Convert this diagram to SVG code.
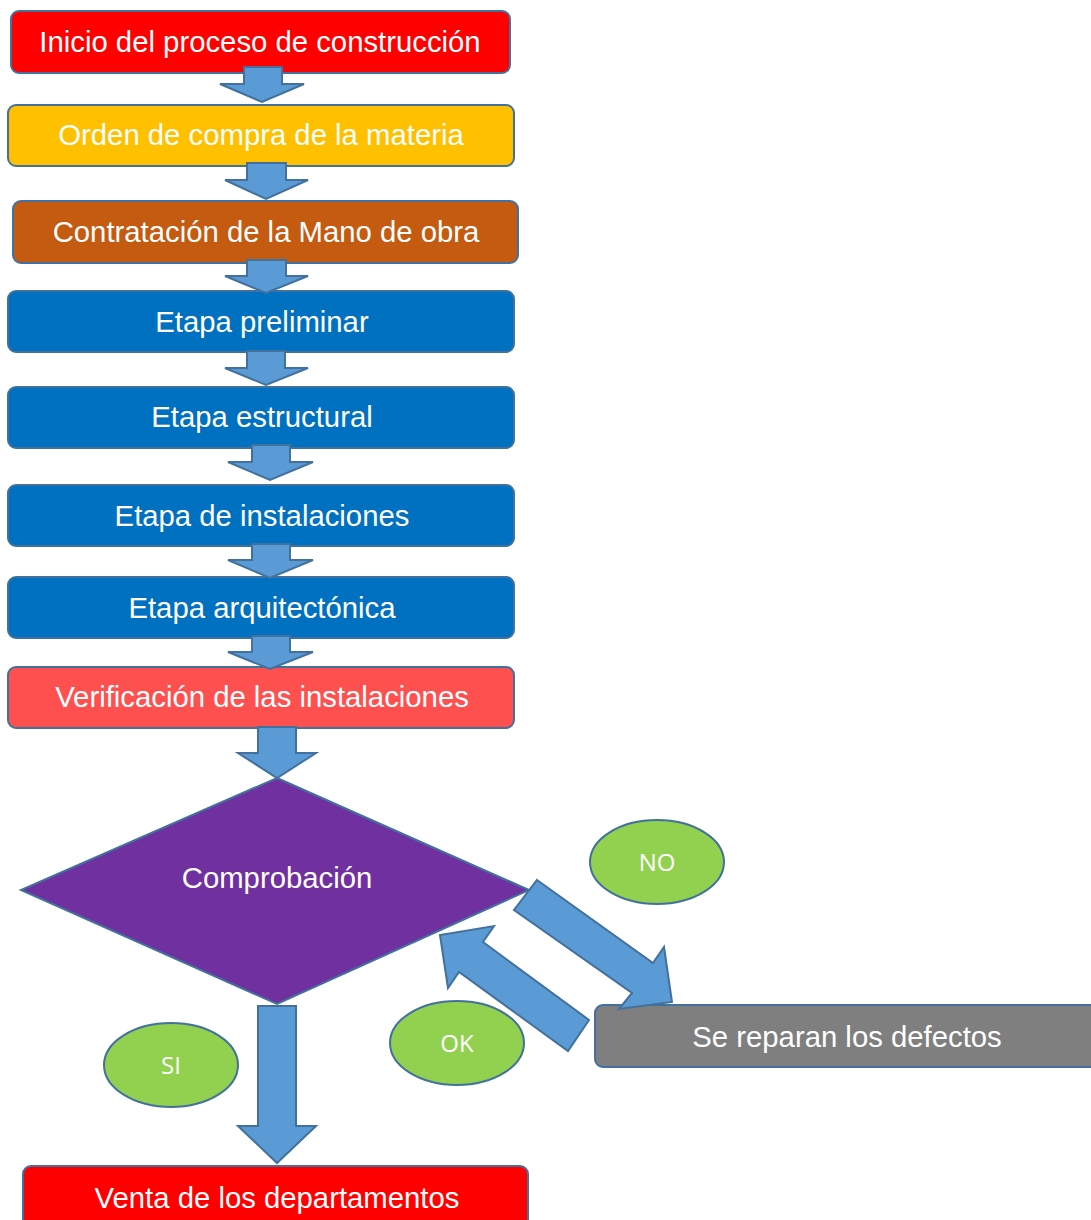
<svg xmlns="http://www.w3.org/2000/svg" width="1091" height="1220" viewBox="0 0 1091 1220">
  <style>
    .box { stroke: #41719C; stroke-width: 2; }
    .lbl { font-family: "Liberation Sans", Arial, sans-serif; font-size: 29.3px; fill: #FFFFFF; text-anchor: middle; }
    .tag { fill: #92D050; stroke: #41719C; stroke-width: 2; }
    .tagtxt { font-family: "Open Sans", "Liberation Sans", sans-serif; font-size: 24px; fill: #FFFFFF; text-anchor: middle; }
    .arrow { fill: #5B9BD5; stroke: #41719C; stroke-width: 2; stroke-linejoin: miter; }
  </style>

  <rect width="1091" height="1220" fill="#FFFFFF"/>

  <g id="n-inicio">
    <rect class="box" x="11" y="11" width="499" height="62" rx="8" fill="#FF0000"/>
    <text class="lbl" x="260" y="52">Inicio del proceso de construcción</text>
  </g>
  <g id="n-orden">
    <rect class="box" x="8" y="105" width="506" height="61" rx="8" fill="#FFC000"/>
    <text class="lbl" x="261" y="145">Orden de compra de la materia</text>
  </g>
  <g id="n-contratacion">
    <rect class="box" x="13" y="201" width="505" height="62" rx="8" fill="#C55A11"/>
    <text class="lbl" x="266" y="242">Contratación de la Mano de obra</text>
  </g>
  <g id="n-preliminar">
    <rect class="box" x="8" y="291" width="506" height="61" rx="8" fill="#0070C0"/>
    <text class="lbl" x="262" y="332">Etapa preliminar</text>
  </g>
  <g id="n-estructural">
    <rect class="box" x="8" y="387" width="506" height="61" rx="8" fill="#0070C0"/>
    <text class="lbl" x="262" y="427">Etapa estructural</text>
  </g>
  <g id="n-instalaciones">
    <rect class="box" x="8" y="485" width="506" height="61" rx="8" fill="#0070C0"/>
    <text class="lbl" x="262" y="526">Etapa de instalaciones</text>
  </g>
  <g id="n-arquitectonica">
    <rect class="box" x="8" y="577" width="506" height="61" rx="8" fill="#0070C0"/>
    <text class="lbl" x="262" y="618">Etapa arquitectónica</text>
  </g>
  <g id="n-verificacion">
    <rect class="box" x="8" y="667" width="506" height="61" rx="8" fill="#FF5050"/>
    <text class="lbl" x="262" y="707">Verificación de las instalaciones</text>
  </g>
  <g id="n-comprobacion">
    <polygon class="box" points="277,778 529,890 277,1004 21,890" fill="#7030A0"/>
    <text class="lbl" x="277" y="888">Comprobación</text>
  </g>
  <g id="n-reparan">
    <rect class="box" x="595" y="1005" width="510" height="62" rx="8" fill="#7F7F7F"/>
    <text class="lbl" x="847" y="1047">Se reparan los defectos</text>
  </g>
  <g id="n-venta">
    <rect class="box" x="23" y="1166" width="505" height="70" rx="8" fill="#FF0000"/>
    <text class="lbl" x="277" y="1208">Venta de los departamentos</text>
  </g>

  <g id="t-no">
    <ellipse class="tag" cx="657" cy="862" rx="67" ry="42"/>
    <text class="tagtxt" x="657" y="871">NO</text>
  </g>
  <g id="t-ok">
    <ellipse class="tag" cx="457" cy="1043" rx="67" ry="42"/>
    <text class="tagtxt" x="457" y="1052">OK</text>
  </g>
  <g id="t-si">
    <ellipse class="tag" cx="171" cy="1065" rx="67" ry="42"/>
    <text class="tagtxt" x="171" y="1074">SI</text>
  </g>

  <g id="connectors">
    <polygon class="arrow" points="244,67 282,67 282,84 304,84 262,102 220,84 244,84"/>
    <polygon class="arrow" points="247,163 286,163 286,180 308,180 266,199 225,180 247,180"/>
    <polygon class="arrow" points="247,260 286,260 286,276 308,276 266,293 225,276 247,276"/>
    <polygon class="arrow" points="247,351 285,351 285,368 308,368 266,385 225,368 247,368"/>
    <polygon class="arrow" points="252,445 290,445 290,462 313,462 270,480 228,462 252,462"/>
    <polygon class="arrow" points="252,544 290,544 290,560 313,560 270,578 228,560 252,560"/>
    <polygon class="arrow" points="252,636 290,636 290,652 313,652 270,669 228,652 252,652"/>
    <polygon class="arrow" points="258,727 296,727 296,753 316,753 277,778 238,753 258,753"/>
    <polygon class="arrow" points="258,1006 296,1006 296,1126 316,1126 277,1163 238,1126 258,1126"/>
    <!-- NO: decision to repair -->
    <polygon class="arrow" points="537,880 653,963 664,947 672,1002 619,1009 632,993 514,910"/>
    <!-- OK: repair back to decision -->
    <polygon class="arrow" points="589,1020 483,942 494,926 440,935 448,988 459,972 568,1051"/>
  </g>
</svg>
